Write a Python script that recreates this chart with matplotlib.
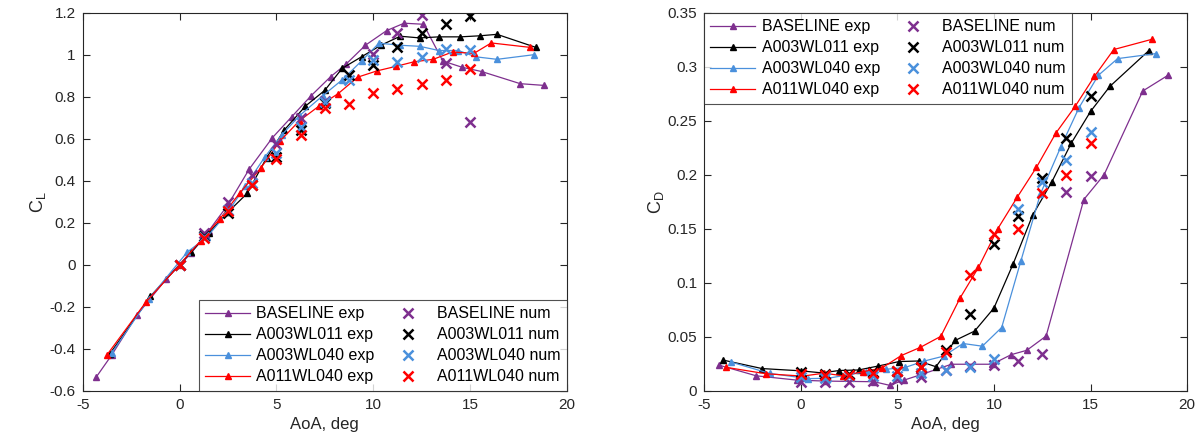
import matplotlib
matplotlib.use("Agg")
import matplotlib.pyplot as plt
from matplotlib.ticker import FormatStrFormatter, MultipleLocator
from matplotlib.lines import Line2D

plt.rcParams["font.family"] = ["Liberation Sans", "DejaVu Sans"]
plt.rcParams["axes.unicode_minus"] = False

# ---- lift coefficient (left panel) ----
cl_base_exp_x = [-4.3, -3.5, -2.2, -0.7, 0.6, 1.5, 2.5, 3.6, 4.8, 5.8, 6.8, 7.8, 8.6, 9.6, 10.7, 11.6, 12.6, 13.6, 14.6, 15.6, 17.6, 18.8]
cl_base_exp_y = [-0.535, -0.43, -0.24, -0.07, 0.055, 0.16, 0.285, 0.455, 0.605, 0.705, 0.805, 0.895, 0.955, 1.045, 1.115, 1.15, 1.145, 0.97, 0.94, 0.92, 0.862, 0.854]
cl_a011_exp_x = [-3.6, -1.5, 0.6, 1.5, 2.5, 3.5, 4.5, 5.4, 6.5, 7.5, 8.4, 9.4, 10.4, 11.4, 12.4, 13.4, 14.5, 15.5, 16.4, 18.4]
cl_a011_exp_y = [-0.425, -0.15, 0.06, 0.15, 0.25, 0.34, 0.51, 0.64, 0.755, 0.83, 0.935, 0.99, 1.045, 1.088, 1.08, 1.085, 1.085, 1.09, 1.097, 1.035]
cl_a040_exp_x = [-3.5, -1.6, 0.4, 1.4, 2.5, 3.4, 4.4, 5.3, 6.2, 7.4, 8.4, 9.4, 10.3, 11.4, 12.4, 13.4, 14.4, 15.3, 16.4, 18.3]
cl_a040_exp_y = [-0.42, -0.165, 0.06, 0.13, 0.25, 0.375, 0.512, 0.62, 0.71, 0.805, 0.88, 0.97, 1.055, 1.045, 1.04, 1.02, 1.02, 0.99, 0.978, 1.0]
cl_a11_exp_x = [-3.75, -1.75, 0.0, 1.1, 2.1, 3.1, 4.2, 5.2, 6.2, 7.2, 8.2, 9.2, 10.2, 11.2, 12.1, 13.1, 14.1, 15.2, 16.1, 18.1]
cl_a11_exp_y = [-0.43, -0.18, 0.0, 0.115, 0.22, 0.34, 0.46, 0.59, 0.686, 0.755, 0.815, 0.893, 0.923, 0.945, 0.966, 0.978, 1.013, 1.006, 1.056, 1.035]

num_aoa = [0, 1.25, 2.5, 3.75, 5, 6.25, 7.5, 8.75, 10, 11.25, 12.5, 13.75, 15]
cl_base_num_x = [0, 1.25, 2.5, 3.75, 5, 6.25, 7.5, 10, 11.25, 12.5, 13.75, 15]
cl_base_num_y = [0.0, 0.15, 0.30, 0.425, 0.575, 0.697, 0.781, 1.005, 1.104, 1.19, 0.962, 0.681]
cl_a011_num_y = [0.0, 0.135, 0.245, 0.38, 0.515, 0.64, 0.77, 0.903, 0.951, 1.038, 1.102, 1.146, 1.184]
cl_a040_num_y = [0.0, 0.13, 0.26, 0.39, 0.53, 0.655, 0.775, 0.88, 0.977, 0.966, 0.988, 1.028, 1.024]
cl_a11_num_y = [0.0, 0.125, 0.255, 0.38, 0.502, 0.618, 0.745, 0.764, 0.819, 0.836, 0.859, 0.88, 0.93]

# ---- drag coefficient (right panel) ----
cd_base_exp_x = [-4.25, -2.3, -0.2, 1.3, 3.8, 4.6, 5.35, 6.3, 7.8, 9.9, 10.9, 11.7, 12.7, 14.65, 15.7, 17.7, 19.0]
cd_base_exp_y = [0.0238, 0.0138, 0.0098, 0.0089, 0.0083, 0.005, 0.0098, 0.0153, 0.0245, 0.0245, 0.0334, 0.0374, 0.0506, 0.177, 0.2, 0.2775, 0.292]
cd_a011_exp_x = [-4.0, -2.0, 0.0, 1.1, 2.0, 3.0, 4.0, 5.1, 6.1, 7.0, 8.0, 9.0, 10.0, 11.0, 12.0, 13.0, 14.0, 15.0, 16.0, 18.0]
cd_a011_exp_y = [0.0283, 0.0205, 0.0184, 0.0165, 0.0187, 0.0192, 0.0228, 0.027, 0.0275, 0.0222, 0.0466, 0.0552, 0.0765, 0.1177, 0.1625, 0.1935, 0.2292, 0.2586, 0.2818, 0.3147]
cd_a040_exp_x = [-3.6, -1.6, 0.4, 1.4, 2.4, 3.4, 4.4, 5.4, 6.4, 7.4, 8.4, 9.4, 10.4, 11.4, 12.4, 13.45, 14.4, 15.4, 16.4, 18.4]
cd_a040_exp_y = [0.0265, 0.016, 0.0112, 0.0115, 0.0145, 0.0175, 0.0198, 0.0215, 0.0275, 0.032, 0.0437, 0.0412, 0.0585, 0.1205, 0.182, 0.2254, 0.262, 0.292, 0.3075, 0.3122]
cd_a11_exp_x = [-3.85, -1.8, 0.1, 1.2, 2.2, 3.2, 4.2, 5.2, 6.2, 7.25, 8.25, 9.2, 10.2, 11.2, 12.2, 13.2, 14.2, 15.2, 16.2, 18.2]
cd_a11_exp_y = [0.0216, 0.0157, 0.0135, 0.0162, 0.0138, 0.0175, 0.021, 0.0325, 0.0402, 0.0503, 0.0859, 0.1141, 0.15, 0.179, 0.2068, 0.2384, 0.2632, 0.2911, 0.3159, 0.3255]

cd_base_num_x = [0, 1.25, 2.5, 3.75, 5, 6.25, 7.5, 8.75, 10, 11.25, 12.5, 13.75, 15]
cd_base_num_y = [0.0085, 0.0083, 0.0083, 0.0089, 0.0105, 0.0125, 0.019, 0.0228, 0.0234, 0.0274, 0.0336, 0.1836, 0.1985]
cd_a011_num_y = [0.017, 0.0155, 0.0155, 0.017, 0.0185, 0.022, 0.038, 0.0712, 0.136, 0.1617, 0.1965, 0.234, 0.2725]
cd_a040_num_y = [0.0125, 0.0115, 0.0135, 0.0135, 0.014, 0.016, 0.0195, 0.0222, 0.0295, 0.168, 0.193, 0.2136, 0.24]
cd_a11_num_y = [0.0157, 0.0148, 0.0148, 0.0164, 0.0179, 0.022, 0.0359, 0.107, 0.145, 0.1494, 0.183, 0.2, 0.229]

names = ["BASELINE", "A003WL011", "A003WL040", "A011WL040"]
colors = ["#7E2F8E", "#000000", "#4A90DC", "#FF0000"]

fig = plt.figure(figsize=(12.02, 4.46), dpi=100)
ax1 = fig.add_axes([0.0688, 0.124, 0.4027, 0.8475])
ax2 = fig.add_axes([0.5857, 0.124, 0.4020, 0.8475])

cl_exp = [(cl_base_exp_x, cl_base_exp_y), (cl_a011_exp_x, cl_a011_exp_y),
          (cl_a040_exp_x, cl_a040_exp_y), (cl_a11_exp_x, cl_a11_exp_y)]
cl_num = [(cl_base_num_x, cl_base_num_y), (num_aoa, cl_a011_num_y),
          (num_aoa, cl_a040_num_y), (num_aoa, cl_a11_num_y)]
cd_exp = [(cd_base_exp_x, cd_base_exp_y), (cd_a011_exp_x, cd_a011_exp_y),
          (cd_a040_exp_x, cd_a040_exp_y), (cd_a11_exp_x, cd_a11_exp_y)]
cd_num = [(cd_base_num_x, cd_base_num_y), (num_aoa, cd_a011_num_y),
          (num_aoa, cd_a040_num_y), (num_aoa, cd_a11_num_y)]


def draw(ax, exp, num):
    for (x, y), c in zip(exp, colors):
        ax.plot(x, y, "-^", color=c, lw=0.9, ms=4)
    for (x, y), c in zip(num, colors):
        ax.plot(x, y, "x", color=c, ms=7, mew=1.8, ls="none")
    handles = [Line2D([], [], color=c, marker="^", ms=4, lw=0.9) for c in colors]
    handles += [Line2D([], [], color=c, marker="x", ms=7, mew=1.8, ls="none") for c in colors]
    labels = [n + " exp" for n in names] + [n + " num" for n in names]
    return handles, labels


def style(ax):
    for s in ax.spines.values():
        s.set_color("#262626")
        s.set_linewidth(0.8)
    ax.tick_params(direction="in", top=True, right=True, labelsize=11,
                   colors="#262626", length=5, width=0.8, pad=5)
    ax.set_xlim(-5, 20)
    ax.xaxis.set_major_locator(MultipleLocator(5))
    ax.xaxis.set_major_formatter(FormatStrFormatter("%g"))
    ax.yaxis.set_major_formatter(FormatStrFormatter("%g"))
    ax.set_xlabel("AoA, deg", fontsize=12, color="#262626")


def add_legend(ax, h, l, loc):
    leg = ax.legend(h, l, ncol=2, loc=loc, fontsize=11.5, frameon=True,
                    fancybox=False, edgecolor="#262626", borderaxespad=0,
                    handlelength=2.8, columnspacing=0.7, labelspacing=0.38,
                    borderpad=0.4, handletextpad=0.4)
    leg.get_frame().set_linewidth(0.8)
    return leg


h, l = draw(ax1, cl_exp, cl_num)
style(ax1)
ax1.set_ylim(-0.6, 1.2)
ax1.yaxis.set_major_locator(MultipleLocator(0.2))
ax1.set_ylabel(r"$\mathregular{C_L}$", fontsize=13, color="#262626", labelpad=1)
add_legend(ax1, h, l, "lower right")

h, l = draw(ax2, cd_exp, cd_num)
style(ax2)
ax2.set_ylim(0, 0.35)
ax2.yaxis.set_major_locator(MultipleLocator(0.05))
ax2.set_ylabel(r"$\mathregular{C_D}$", fontsize=13, color="#262626", labelpad=1)
add_legend(ax2, h, l, "upper left")

fig.savefig("out.png", dpi=100)
